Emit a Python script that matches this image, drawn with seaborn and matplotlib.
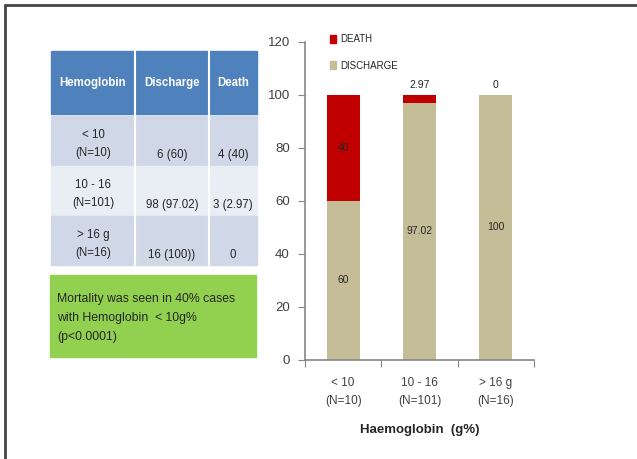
import matplotlib
matplotlib.use('Agg')
import matplotlib.pyplot as plt
from matplotlib.patches import Rectangle, Patch
import seaborn as sns
import pandas as pd

groups = ['< 10\n(N=10)', '10 - 16\n(N=101)', '> 16 g\n(N=16)']
discharge = [60, 97.02, 100]
death = [40, 2.97, 0]
discharge_lbl = ['60', '97.02', '100']
death_lbl = ['40', '2.97', '0']

tbl_header = ['Hemoglobin', 'Discharge', 'Death']
tbl_groups = ['< 10\n(N=10)', '10 - 16\n(N=101)', '> 16 g\n(N=16)']
tbl_discharge = ['6 (60)', '98 (97.02)', '16 (100))']
tbl_death = ['4 (40)', '3 (2.97)', '0']
note = 'Mortality was seen in 40% cases\nwith Hemoglobin  < 10g%\n(p<0.0001)'

sns.set_style('white')
plt.rcParams['font.family'] = ['Liberation Sans', 'DejaVu Sans']

df = pd.DataFrame({'group': groups, 'discharge': discharge, 'death': death})
df['total'] = df['discharge'] + df['death']

RED = '#C00000'
TAN = '#C4BD97'
TXT = '#262626'

fig = plt.figure(figsize=(6.37, 4.59), dpi=100)
ax = fig.add_axes([0.4788, 0.2157, 0.3595, 0.6928])

sns.barplot(data=df, x='group', y='total', color=RED, width=0.43, saturation=1, linewidth=0, ax=ax)
sns.barplot(data=df, x='group', y='discharge', color=TAN, width=0.43, saturation=1, linewidth=0, ax=ax)

ax.set_ylim(0, 120)
ax.set_xlim(-0.5, 2.5)
ax.set_yticks(range(0, 121, 20))
ax.set_xticks([-0.5, 0.5, 1.5, 2.5])
ax.set_xticklabels([])
ax.set_xticks([0, 1, 2], minor=True)
ax.set_xticklabels(groups, minor=True, fontsize=8.5, color='#404040', linespacing=1.75)
ax.tick_params(axis='x', which='minor', length=0, pad=12)
ax.tick_params(axis='x', which='major', length=5, direction='out', color='#868686', bottom=True)
ax.tick_params(axis='y', length=5, direction='out', color='#868686', left=True, labelsize=9.5,
               labelcolor='#404040', pad=6)
for s in ['top', 'right']:
    ax.spines[s].set_visible(False)
for s in ['left', 'bottom']:
    ax.spines[s].set_color('#868686')
    ax.spines[s].set_linewidth(1.2)
ax.set_ylabel('')
ax.set_xlabel('Haemoglobin  (g%)', fontsize=9.5, fontweight='bold', color=TXT, labelpad=12)

for i in range(len(groups)):
    ax.text(i, discharge[i] / 2, discharge_lbl[i], ha='center', va='center', fontsize=7.5, color=TXT)
    if death[i] > 10:
        ax.text(i, discharge[i] + death[i] / 2, death_lbl[i], ha='center', va='center', fontsize=7.5,
                color=TXT, zorder=5)
    else:
        ax.text(i, discharge[i] + death[i] + 2, death_lbl[i], ha='center', va='bottom', fontsize=7.5, color=TXT)

ax.legend(handles=[Patch(color=RED, label='DEATH'), Patch(color=TAN, label='DISCHARGE')],
          loc='upper left', bbox_to_anchor=(0.505, 0.945), bbox_transform=fig.transFigure,
          frameon=False, fontsize=7, handlelength=0.6, handleheight=0.9, handletextpad=0.4,
          labelspacing=1.7, labelcolor=TXT)

# overlay in pixel coordinates for the table, note box and frame
ov = fig.add_axes([0, 0, 1, 1], zorder=-1)
ov.set_xlim(0, 637)
ov.set_ylim(459, 0)
ov.axis('off')

ov.plot([5, 637], [5, 5], color='#444444', lw=2)
ov.plot([5, 5], [5, 459], color='#444444', lw=2)

cols = [51, 135, 209, 257]
ov.add_patch(Rectangle((cols[0], 51), cols[3] - cols[0], 63, color='#4F81BD'))
for j, h in enumerate(tbl_header):
    ov.text((cols[j] + cols[j + 1]) / 2, 83, h, ha='center', va='center', color='white', fontsize=8.3,
            fontweight='bold', zorder=2)

row_top = [116, 166, 216]
row_fill = ['#D0D8E8', '#E9EDF4', '#D0D8E8']
for r in range(3):
    y0 = row_top[r]
    ov.add_patch(Rectangle((cols[0], y0), cols[3] - cols[0], 49, color=row_fill[r], zorder=0))
    ov.text((cols[0] + cols[1]) / 2, y0 + 28, tbl_groups[r], ha='center', va='center', fontsize=8.3,
            color=TXT, linespacing=1.65, zorder=2)
    ov.text((cols[1] + cols[2]) / 2, y0 + 39, tbl_discharge[r], ha='center', va='center', fontsize=8.3,
            color=TXT, zorder=2)
    ov.text((cols[2] + cols[3]) / 2, y0 + 39, tbl_death[r], ha='center', va='center', fontsize=8.3,
            color=TXT, zorder=2)
for j in range(1, 3):
    ov.plot([cols[j], cols[j]], [51, 265], color='white', lw=1.5, zorder=1)

ov.add_patch(Rectangle((50, 275), 206, 82, color='#92D050'))
ov.text(57, 318, note, ha='left', va='center', fontsize=8.8, color=TXT, linespacing=1.8)

fig.savefig('out.png', dpi=100)
